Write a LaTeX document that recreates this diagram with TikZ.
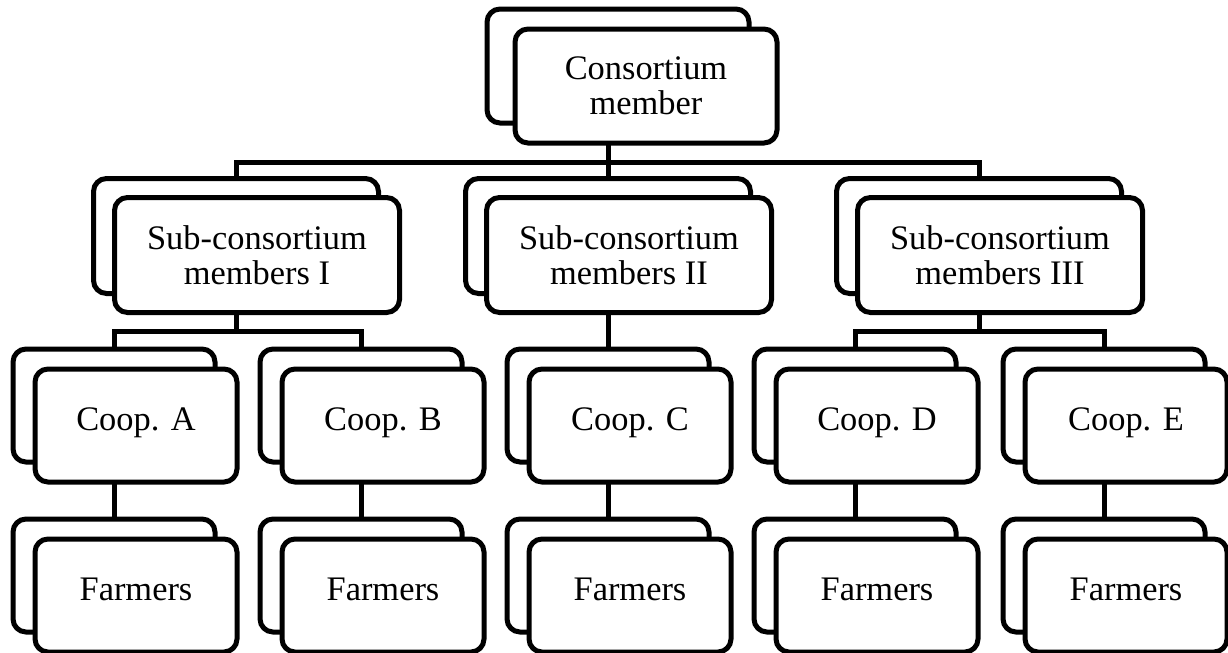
\documentclass[tikz,border=0pt]{standalone}
\usepackage{fontspec}
\setmainfont{Liberation Serif}
\usetikzlibrary{backgrounds}

\tikzset{
	card/.style={draw, line width=2.5pt, rounded corners=6.5pt, fill=white, align=center, inner sep=0pt, font=\fontsize{17.2}{17.5}\selectfont},
	topcard/.style={card, minimum width=131pt, minimum height=57pt},
	subcard/.style={card, minimum width=142.5pt, minimum height=57.5pt},
	coopcard/.style={card, minimum width=101pt, minimum height=56.5pt, text height=12pt, text depth=6.6pt},
	link/.style={line width=2.5pt}
}

\begin{document}
\begin{tikzpicture}[x=0.5pt, y=-0.5pt]
			%%%%% START %%%%%
			\useasboundingbox (0, 0) rectangle (1228, 653);
			
			\node[topcard] (topb) at (618, 66) {};
			\node[topcard] (top) at (646, 86) {Consortium\\member};
			
			\node[subcard] (subIb) at (236, 236) {};
			\node[subcard] (subI) at (257, 255) {Sub-consortium\\members I};
			\node[subcard] (subIIb) at (608, 236) {};
			\node[subcard] (subII) at (629, 255) {Sub-consortium\\members II};
			\node[subcard] (subIIIb) at (979, 236) {};
			\node[subcard] (subIII) at (1000, 255) {Sub-consortium\\members III};
			
			\node[coopcard] (coopAb) at (114, 405.5) {};
			\node[coopcard] (coopA) at (136, 425.5) {Coop. A};
			\node[coopcard] (coopBb) at (361, 405.5) {};
			\node[coopcard] (coopB) at (383, 425.5) {Coop. B};
			\node[coopcard] (coopCb) at (608, 405.5) {};
			\node[coopcard] (coopC) at (630, 425.5) {Coop. C};
			\node[coopcard] (coopDb) at (855, 405.5) {};
			\node[coopcard] (coopD) at (877, 425.5) {Coop. D};
			\node[coopcard] (coopEb) at (1104, 405.5) {};
			\node[coopcard] (coopE) at (1126, 425.5) {Coop. E};
			
			\node[coopcard] (farmAb) at (114, 575.5) {};
			\node[coopcard] (farmA) at (136, 595.5) {Farmers};
			\node[coopcard] (farmBb) at (361, 575.5) {};
			\node[coopcard] (farmB) at (383, 595.5) {Farmers};
			\node[coopcard] (farmCb) at (608, 575.5) {};
			\node[coopcard] (farmC) at (630, 595.5) {Farmers};
			\node[coopcard] (farmDb) at (855, 575.5) {};
			\node[coopcard] (farmD) at (877, 595.5) {Farmers};
			\node[coopcard] (farmEb) at (1104, 575.5) {};
			\node[coopcard] (farmE) at (1126, 595.5) {Farmers};
			
			% connectors sit behind the cards
			\begin{scope}[on background layer]
			\coordinate (bus0) at (608, 162);
			\coordinate (busI) at (236, 331);
			\coordinate (busIII) at (979, 331);
			
			\draw[link] (bus0) -- (bus0 |- top.center);
			\draw[link] (subIb) |- (bus0) -| (subIIIb);
			\draw[link] (bus0) -- (subIIb);
			
			\draw[link] (busI) -- (subIb);
			\draw[link] (coopAb) |- (busI) -| (coopBb);
			\draw[link] (subIIb) -- (coopCb);
			\draw[link] (busIII) -- (subIIIb);
			\draw[link] (coopDb) |- (busIII) -| (coopEb);
			
			\draw[link] (coopAb) -- (farmAb);
			\draw[link] (coopBb) -- (farmBb);
			\draw[link] (coopCb) -- (farmCb);
			\draw[link] (coopDb) -- (farmDb);
			\draw[link] (coopEb) -- (farmEb);
			\end{scope}
			
			%%%%% END %%%%%
\end{tikzpicture}
\end{document}
